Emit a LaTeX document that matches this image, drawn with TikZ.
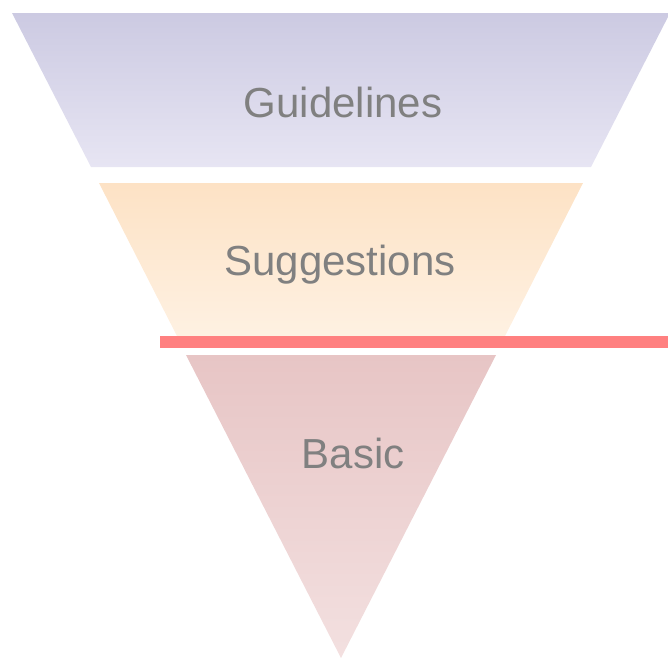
\documentclass[tikz,border=0pt]{standalone}
\usepackage{fontspec}
\setmainfont{Liberation Sans}
\usetikzlibrary{positioning}
\definecolor{gdtop}{HTML}{CCCAE2}
\definecolor{gdbot}{HTML}{E7E5F3}
\definecolor{sgtop}{HTML}{FDE2C5}
\definecolor{sgbot}{HTML}{FEF1E2}
\definecolor{bstop}{HTML}{E7C5C5}
\definecolor{bsbot}{HTML}{F3E0E0}
\definecolor{cutred}{HTML}{FF8080}
\definecolor{lbl}{HTML}{808080}
\tikzset{lvl/.style={text=lbl,inner sep=0pt,anchor=base,font=\fontsize{42}{50}\selectfont}}

\begin{document}
\begin{tikzpicture}[x=1pt,y=-1pt]
				\useasboundingbox (0,0) rectangle (668,659);
				\coordinate (a1) at (12,13);   \coordinate (a2) at (670,13);  \coordinate (a3) at (591,167); \coordinate (a4) at (91,167);
				\coordinate (b1) at (99,183);  \coordinate (b2) at (583,183); \coordinate (b3) at (505,336); \coordinate (b4) at (177,336);
				\coordinate (c1) at (186,355); \coordinate (c2) at (496,355); \coordinate (tip) at (341,658);
				\shade [top color=gdtop,bottom color=gdbot] (a1) -- (a2) -- (a3) -- (a4) -- cycle;
				\shade [top color=sgtop,bottom color=sgbot] (b1) -- (b2) -- (b3) -- (b4) -- cycle;
				\shade [top color=bstop,bottom color=bsbot] (c1) -- (c2) -- (tip) -- cycle;
				\coordinate (r1) at (160,342); \coordinate (r2) at (668,342);
				\draw [cutred,line width=12pt] (r1) -- (r2);
				\node [lvl] (gl) at (343,117) {Guidelines};
				\node [lvl] (sg) at (340,275) {Suggestions};
				\node [lvl] (bs) at (353,468) {Basic};
\end{tikzpicture}
\end{document}
